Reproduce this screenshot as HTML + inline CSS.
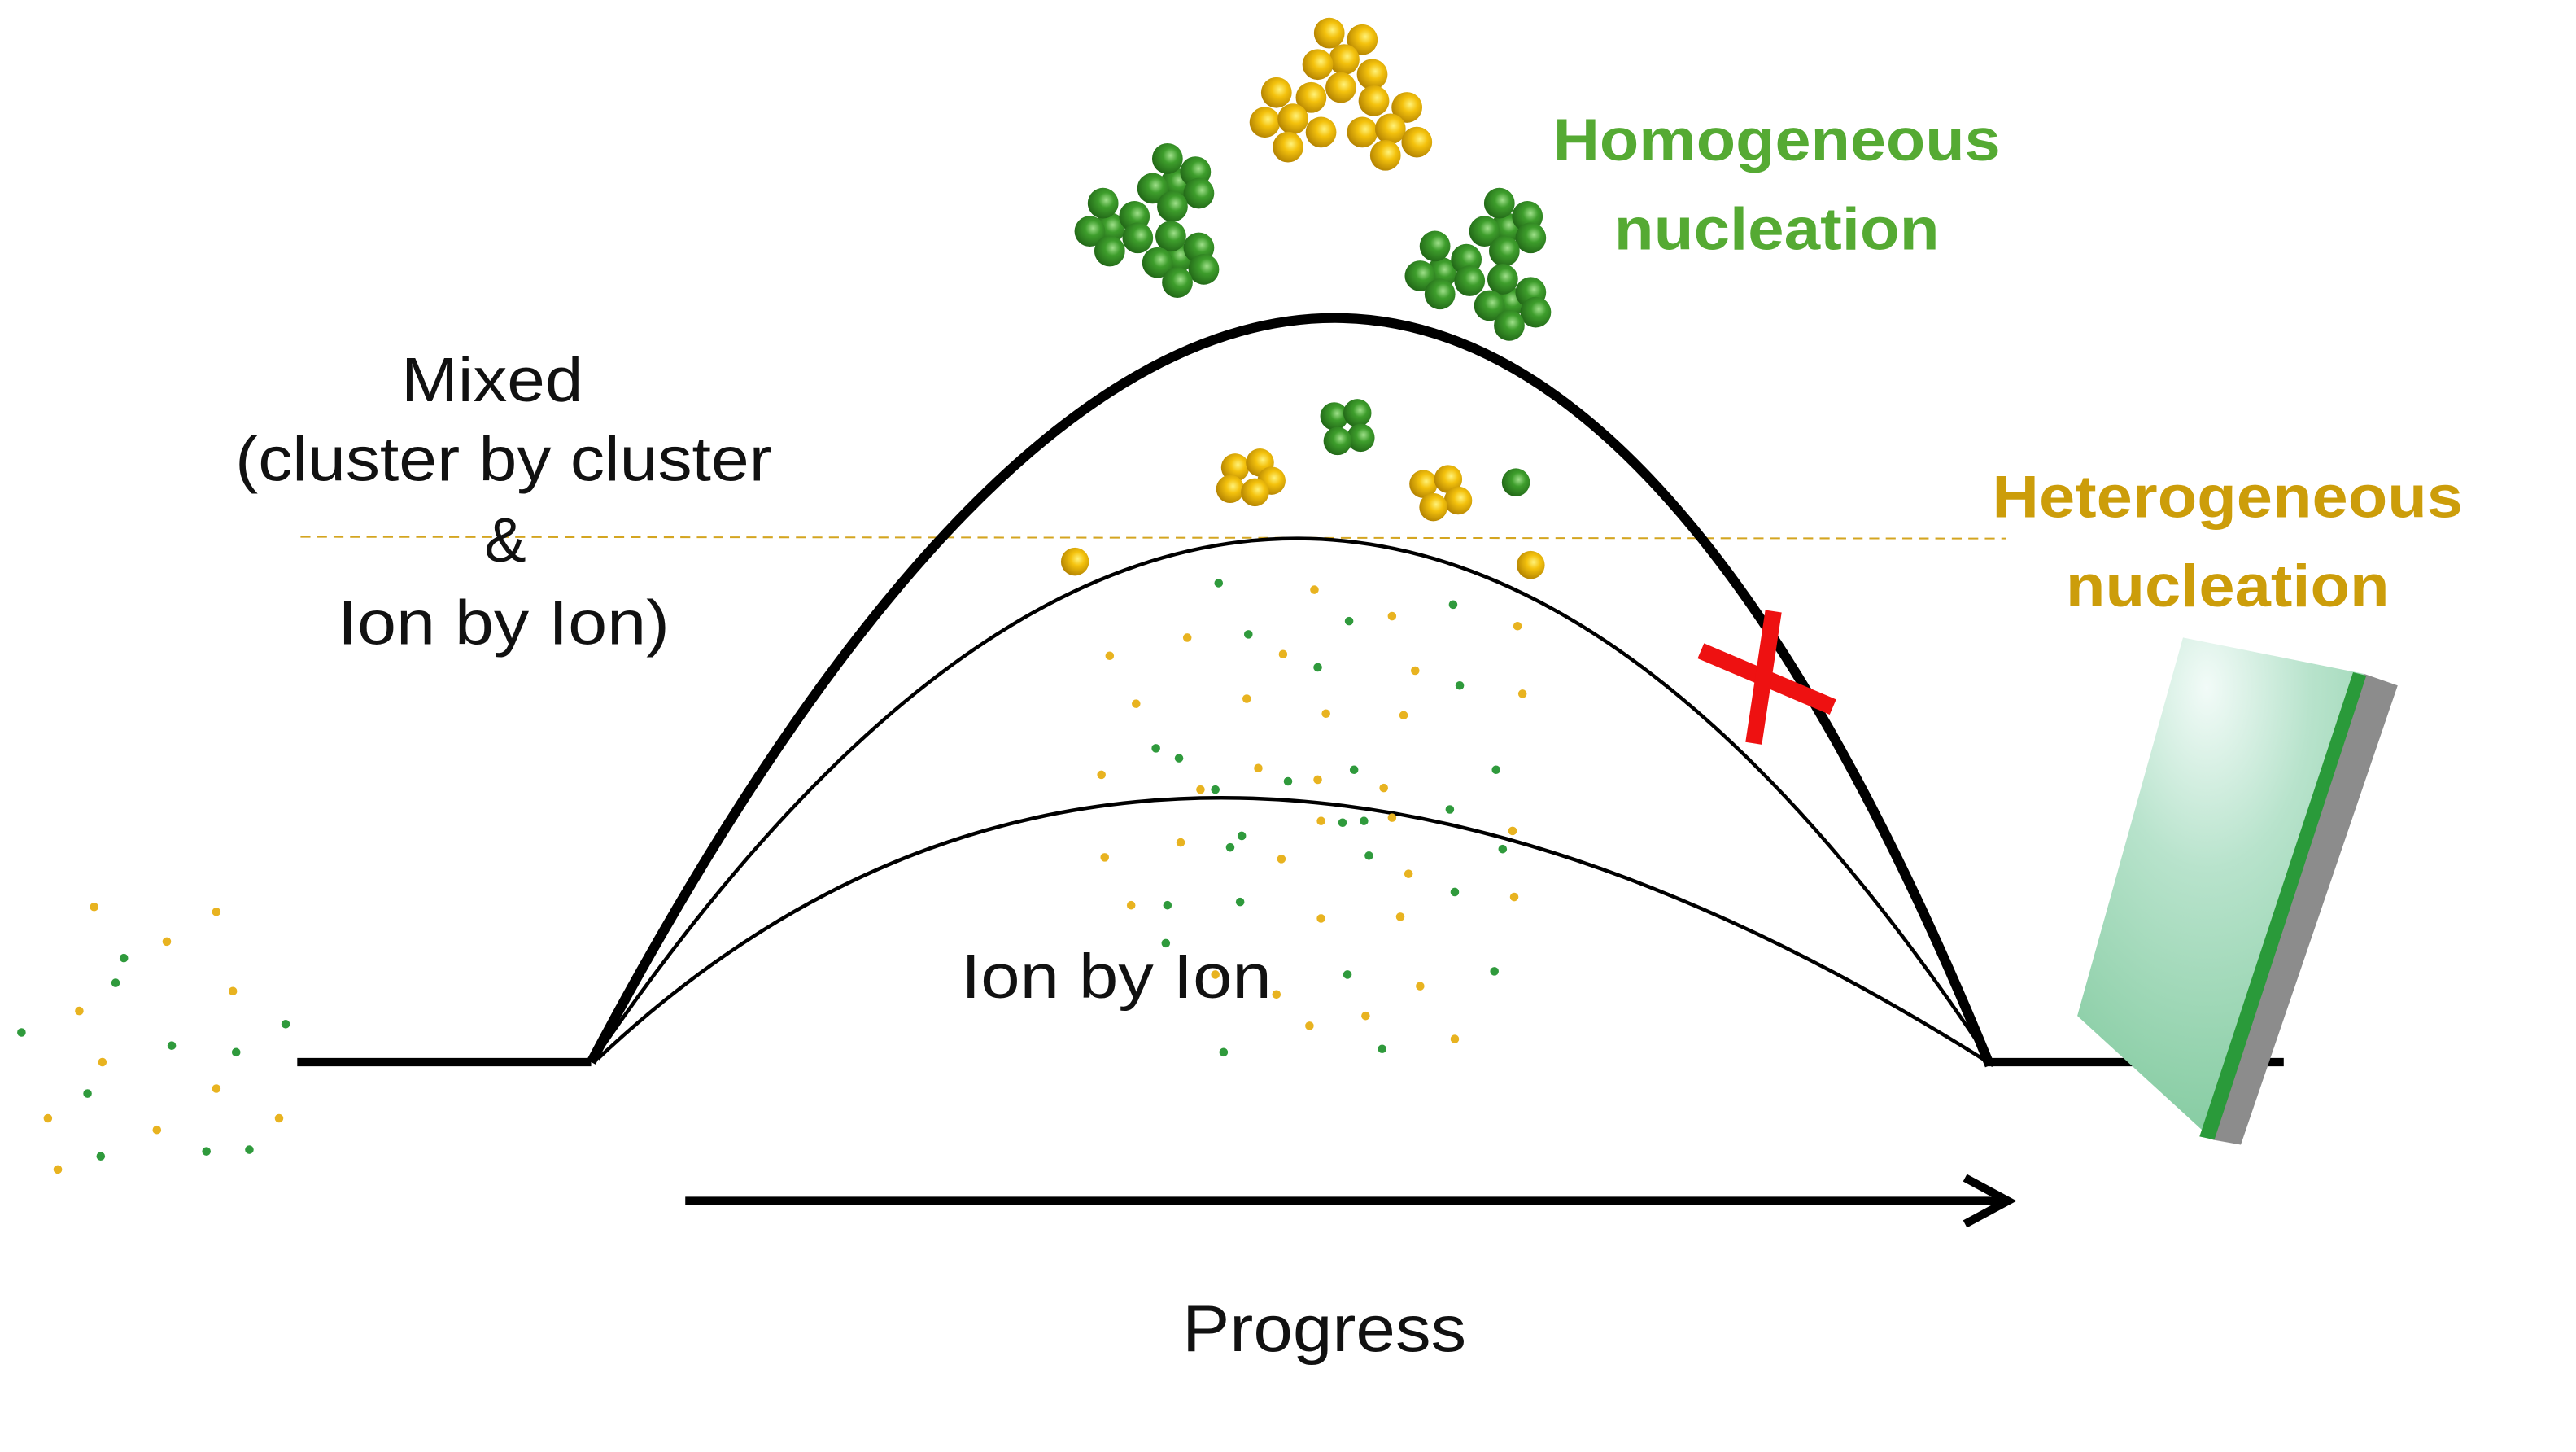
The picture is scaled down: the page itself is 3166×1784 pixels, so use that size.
<!DOCTYPE html>
<html><head><meta charset="utf-8"><style>
html,body{margin:0;padding:0;background:#fff;}
svg{display:block;}
text{font-family:"Liberation Sans","DejaVu Sans",sans-serif;}
</style></head><body>
<svg width="3166" height="1784" viewBox="0 0 1560 879" xmlns="http://www.w3.org/2000/svg">
<defs>
<radialGradient id="gy" cx="0.6" cy="0.4" r="0.7"><stop offset="0" stop-color="#fff27a"/><stop offset="0.35" stop-color="#f4c20d"/><stop offset="1" stop-color="#a87800"/></radialGradient>
<radialGradient id="gg" cx="0.6" cy="0.4" r="0.7"><stop offset="0" stop-color="#9fe08a"/><stop offset="0.35" stop-color="#3e9e2c"/><stop offset="1" stop-color="#1d5e14"/></radialGradient>
<radialGradient id="slab" cx="0.45" cy="0.1" r="0.9"><stop offset="0" stop-color="#f2fbf8"/><stop offset="0.4" stop-color="#b8e3cc"/><stop offset="1" stop-color="#86cca2"/></radialGradient>
</defs>
<rect width="1560" height="879" fill="#fff"/>

<line x1="182" y1="325" x2="1215" y2="326" stroke="#d4a520" stroke-width="1" stroke-dasharray="6 4"/>

<line x1="180" y1="643" x2="358" y2="643" stroke="#000" stroke-width="5"/>
<line x1="1203" y1="643" x2="1383" y2="643" stroke="#000" stroke-width="5"/>

<path d="M358,643 Q836,-259 1205,645" fill="none" stroke="#000" stroke-width="6"/>
<path d="M360,641 Q790,9 1207,645" fill="none" stroke="#000" stroke-width="2.2"/>
<path d="M362,641 Q700,323 1207,645" fill="none" stroke="#000" stroke-width="2.2"/>

<line x1="415" y1="727" x2="1212" y2="727" stroke="#000" stroke-width="5"/>
<polyline points="1190,713 1216,727 1190,741" fill="none" stroke="#000" stroke-width="5" stroke-linejoin="miter"/>

<g fill="#e8b320">
<circle cx="57" cy="549" r="2.6"/><circle cx="131" cy="552" r="2.6"/><circle cx="101" cy="570" r="2.6"/><circle cx="141" cy="600" r="2.6"/><circle cx="48" cy="612" r="2.6"/><circle cx="62" cy="643" r="2.6"/><circle cx="131" cy="659" r="2.6"/><circle cx="29" cy="677" r="2.6"/><circle cx="95" cy="684" r="2.6"/><circle cx="169" cy="677" r="2.6"/><circle cx="35" cy="708" r="2.6"/>
<circle cx="796" cy="357" r="2.6"/><circle cx="719" cy="386" r="2.6"/><circle cx="843" cy="373" r="2.6"/><circle cx="919" cy="379" r="2.6"/><circle cx="777" cy="396" r="2.6"/><circle cx="672" cy="397" r="2.6"/><circle cx="857" cy="406" r="2.6"/><circle cx="688" cy="426" r="2.6"/><circle cx="755" cy="423" r="2.6"/><circle cx="803" cy="432" r="2.6"/><circle cx="850" cy="433" r="2.6"/><circle cx="922" cy="420" r="2.6"/><circle cx="667" cy="469" r="2.6"/><circle cx="762" cy="465" r="2.6"/><circle cx="798" cy="472" r="2.6"/><circle cx="838" cy="477" r="2.6"/><circle cx="727" cy="478" r="2.6"/><circle cx="843" cy="495" r="2.6"/><circle cx="800" cy="497" r="2.6"/><circle cx="916" cy="503" r="2.6"/><circle cx="669" cy="519" r="2.6"/><circle cx="715" cy="510" r="2.6"/><circle cx="776" cy="520" r="2.6"/><circle cx="853" cy="529" r="2.6"/><circle cx="685" cy="548" r="2.6"/><circle cx="800" cy="556" r="2.6"/><circle cx="848" cy="555" r="2.6"/><circle cx="917" cy="543" r="2.6"/><circle cx="736" cy="590" r="2.6"/><circle cx="860" cy="597" r="2.6"/><circle cx="793" cy="621" r="2.6"/><circle cx="827" cy="615" r="2.6"/><circle cx="881" cy="629" r="2.6"/><circle cx="773" cy="602" r="2.6"/>
</g>
<g fill="#2f9a3c">
<circle cx="75" cy="580" r="2.6"/><circle cx="70" cy="595" r="2.6"/><circle cx="13" cy="625" r="2.6"/><circle cx="104" cy="633" r="2.6"/><circle cx="143" cy="637" r="2.6"/><circle cx="173" cy="620" r="2.6"/><circle cx="53" cy="662" r="2.6"/><circle cx="61" cy="700" r="2.6"/><circle cx="125" cy="697" r="2.6"/><circle cx="151" cy="696" r="2.6"/>
<circle cx="738" cy="353" r="2.6"/><circle cx="817" cy="376" r="2.6"/><circle cx="880" cy="366" r="2.6"/><circle cx="756" cy="384" r="2.6"/><circle cx="798" cy="404" r="2.6"/><circle cx="884" cy="415" r="2.6"/><circle cx="700" cy="453" r="2.6"/><circle cx="714" cy="459" r="2.6"/><circle cx="780" cy="473" r="2.6"/><circle cx="820" cy="466" r="2.6"/><circle cx="906" cy="466" r="2.6"/><circle cx="878" cy="490" r="2.6"/><circle cx="736" cy="478" r="2.6"/><circle cx="813" cy="498" r="2.6"/><circle cx="745" cy="513" r="2.6"/><circle cx="752" cy="506" r="2.6"/><circle cx="829" cy="518" r="2.6"/><circle cx="881" cy="540" r="2.6"/><circle cx="707" cy="548" r="2.6"/><circle cx="751" cy="546" r="2.6"/><circle cx="910" cy="514" r="2.6"/><circle cx="706" cy="571" r="2.6"/><circle cx="816" cy="590" r="2.6"/><circle cx="905" cy="588" r="2.6"/><circle cx="741" cy="637" r="2.6"/><circle cx="837" cy="635" r="2.6"/><circle cx="826" cy="497" r="2.6"/>
</g>

<g fill="url(#gy)">
<circle cx="805" cy="20" r="9.3"/><circle cx="825" cy="24" r="9.3"/><circle cx="814" cy="36" r="9.3"/><circle cx="798" cy="39" r="9.3"/><circle cx="831" cy="45" r="9.3"/><circle cx="812" cy="53" r="9.3"/><circle cx="773" cy="56" r="9.3"/><circle cx="794" cy="59" r="9.3"/><circle cx="832" cy="61" r="9.3"/><circle cx="852" cy="65" r="9.3"/><circle cx="766" cy="74" r="9.3"/><circle cx="783" cy="72" r="9.3"/><circle cx="800" cy="80" r="9.3"/><circle cx="825" cy="80" r="9.3"/><circle cx="842" cy="78" r="9.3"/><circle cx="858" cy="86" r="9.3"/><circle cx="780" cy="89" r="9.3"/><circle cx="839" cy="94" r="9.3"/>
</g>
<g fill="url(#gg)">
<circle cx="712" cy="111" r="9.3"/><circle cx="707" cy="96" r="9.3"/><circle cx="724" cy="104" r="9.3"/><circle cx="698" cy="114" r="9.3"/><circle cx="726" cy="117" r="9.3"/><circle cx="710" cy="125" r="9.3"/>
<circle cx="672" cy="138" r="9.3"/><circle cx="668" cy="123" r="9.3"/><circle cx="687" cy="131" r="9.3"/><circle cx="660" cy="140" r="9.3"/><circle cx="689" cy="144" r="9.3"/><circle cx="672" cy="152" r="9.3"/>
<circle cx="713" cy="156" r="9.3"/><circle cx="709" cy="143" r="9.3"/><circle cx="726" cy="150" r="9.3"/><circle cx="701" cy="159" r="9.3"/><circle cx="729" cy="163" r="9.3"/><circle cx="713" cy="171" r="9.3"/>
</g>
<g fill="url(#gg)">
<circle cx="912" cy="138" r="9.3"/><circle cx="908" cy="123" r="9.3"/><circle cx="925" cy="131" r="9.3"/><circle cx="899" cy="140" r="9.3"/><circle cx="927" cy="144" r="9.3"/><circle cx="911" cy="152" r="9.3"/>
<circle cx="873" cy="165" r="9.3"/><circle cx="869" cy="149" r="9.3"/><circle cx="888" cy="157" r="9.3"/><circle cx="860" cy="167" r="9.3"/><circle cx="890" cy="170" r="9.3"/><circle cx="872" cy="178" r="9.3"/>
<circle cx="914" cy="183" r="9.3"/><circle cx="910" cy="169" r="9.3"/><circle cx="927" cy="177" r="9.3"/><circle cx="902" cy="185" r="9.3"/><circle cx="930" cy="189" r="9.3"/><circle cx="914" cy="197" r="9.3"/>
</g>
<g fill="url(#gy)">
<circle cx="748" cy="283" r="8.5"/><circle cx="763" cy="280" r="8.5"/><circle cx="745" cy="296" r="8.5"/><circle cx="770" cy="291" r="8.5"/><circle cx="760" cy="298" r="8.5"/>
<circle cx="862" cy="293" r="8.5"/><circle cx="877" cy="290" r="8.5"/><circle cx="883" cy="303" r="8.5"/><circle cx="868" cy="307" r="8.5"/>
<circle cx="651" cy="340" r="8.5"/><circle cx="927" cy="342" r="8.5"/>
</g>
<g fill="url(#gg)">
<circle cx="808" cy="252" r="8.5"/><circle cx="822" cy="250" r="8.5"/><circle cx="824" cy="265" r="8.5"/><circle cx="810" cy="267" r="8.5"/>
<circle cx="918" cy="292" r="8.5"/>
</g>

<line x1="1030" y1="394" x2="1110" y2="428" stroke="#ee1111" stroke-width="10"/>
<line x1="1074" y1="370" x2="1062" y2="450" stroke="#ee1111" stroke-width="10"/>

<polygon points="1432,408 1452,415 1357,693 1340,690" fill="#8c8c8c"/>
<polygon points="1322,386 1432,408 1340,690 1258,615" fill="url(#slab)"/>
<polygon points="1425,407 1433,409 1341,690 1332,688" fill="#2a9a3a"/>

<g font-size="38" fill="#111" text-anchor="middle">
<text x="298" y="243" textLength="110" lengthAdjust="spacingAndGlyphs">Mixed</text>
<text x="305" y="291" textLength="325" lengthAdjust="spacingAndGlyphs">(cluster by cluster</text>
<text x="306" y="340">&amp;</text>
<text x="305" y="390" textLength="201" lengthAdjust="spacingAndGlyphs">Ion by Ion)</text>
<text x="676" y="604" textLength="188" lengthAdjust="spacingAndGlyphs">Ion by Ion</text>
<text x="802" y="818" font-size="40" textLength="172" lengthAdjust="spacingAndGlyphs">Progress</text>
</g>
<g font-size="36" font-weight="bold" text-anchor="middle">
<text x="1076" y="97" fill="#55aa33" textLength="271" lengthAdjust="spacingAndGlyphs">Homogeneous</text>
<text x="1076" y="151" fill="#55aa33" textLength="197" lengthAdjust="spacingAndGlyphs">nucleation</text>
<text x="1349" y="313" fill="#cc9d0a" textLength="285" lengthAdjust="spacingAndGlyphs">Heterogeneous</text>
<text x="1349" y="367" fill="#cc9d0a" textLength="196" lengthAdjust="spacingAndGlyphs">nucleation</text>
</g>
</svg>
</body></html>
